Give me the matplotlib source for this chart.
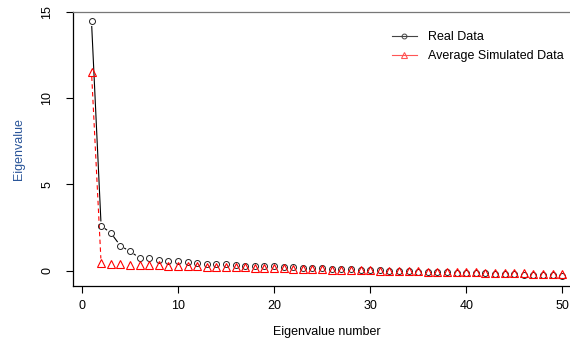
import numpy as np
import matplotlib
matplotlib.use("Agg")
import matplotlib.pyplot as plt

plt.rcParams['font.family'] = ['Liberation Sans', 'DejaVu Sans']

# eigenvalue number
eig_num = np.arange(1, 51)

real_data = [14.45, 2.6, 2.2, 1.45, 1.12, 0.75, 0.72, 0.64, 0.57, 0.54,
             0.48, 0.42, 0.41, 0.40, 0.37, 0.33, 0.30, 0.29, 0.26, 0.25,
             0.23, 0.21, 0.18, 0.16, 0.14, 0.12, 0.10, 0.08, 0.06, 0.04,
             0.02, 0.00, -0.02, -0.03, -0.05, -0.07, -0.08, -0.10, -0.11, -0.13,
             -0.14, -0.16, -0.17, -0.19, -0.20, -0.22, -0.23, -0.25, -0.27, -0.29]

sim_data = [11.55, 0.42, 0.40, 0.38, 0.36, 0.34, 0.33, 0.31, 0.30, 0.28,
            0.27, 0.25, 0.24, 0.23, 0.21, 0.20, 0.19, 0.17, 0.16, 0.15,
            0.13, 0.12, 0.11, 0.10, 0.08, 0.07, 0.06, 0.05, 0.03, 0.02,
            0.01, 0.00, -0.01, -0.02, -0.04, -0.05, -0.06, -0.07, -0.08, -0.09,
            -0.10, -0.12, -0.13, -0.14, -0.15, -0.16, -0.17, -0.18, -0.20, -0.21]

fig = plt.figure(figsize=(5.7, 3.43), dpi=100)
ax = fig.add_axes([0.1275, 0.166, 0.892, 0.799])
ax.set_xlim(-0.96, 51.96)
ax.set_ylim(-0.89, 15.0)


def gapped_line(x, y, gap, **kw):
    # R type="b": line segments stop short of each point
    fig.canvas.draw()
    tr = ax.transData
    pts = tr.transform(np.column_stack([x, y]))
    inv = tr.inverted()
    for p0, p1 in zip(pts[:-1], pts[1:]):
        d = p1 - p0
        L = np.hypot(*d)
        if L <= 2 * gap:
            continue
        u = d / L
        a = inv.transform(p0 + u * gap)
        b = inv.transform(p1 - u * gap)
        ax.plot([a[0], b[0]], [a[1], b[1]], **kw)


gapped_line(eig_num, real_data, 5, color='black', lw=0.8)
gapped_line(eig_num, sim_data, 5, color='red', lw=0.8, ls=(0, (4, 3)))

ax.plot(eig_num, real_data, 'o', ms=4.3, mfc='none', mec='#222222', mew=0.7)
ax.plot(eig_num, sim_data, '^', ms=5.8, mfc='none', mec='red', mew=0.8)

# legend proxies
ax.plot([], [], 'o-', color='#444444', ms=3.5, mfc='none', lw=0.8, mew=0.7, label='Real Data')
ax.plot([], [], '^-', color='#ff5555', ms=5, mfc='none', lw=0.8, mew=0.8, label='Average Simulated Data')
h, l = ax.get_legend_handles_labels()
ax.legend(h[-2:], l[-2:], loc='upper left', bbox_to_anchor=(0.605, 0.97),
          frameon=False, fontsize=9, handlelength=2.0, handletextpad=0.9,
          labelspacing=0.55)

ax.set_xticks([0, 10, 20, 30, 40, 50])
ax.set_yticks([0, 5, 10, 15])
ax.set_yticklabels(['0', '5', '10', '15'], rotation=90, va='center')
ax.tick_params(direction='out', length=5, width=0.8, labelsize=9, pad=5)
ax.tick_params(axis='y', pad=9)
for s in ax.spines.values():
    s.set_linewidth(0.9)
ax.spines['top'].set_color('#777777')

ax.set_xlabel('Eigenvalue number', fontsize=9, labelpad=10)
ax.set_ylabel('Eigenvalue', fontsize=9, color='#2a5599', labelpad=12)

fig.savefig('out.png', dpi=100)
